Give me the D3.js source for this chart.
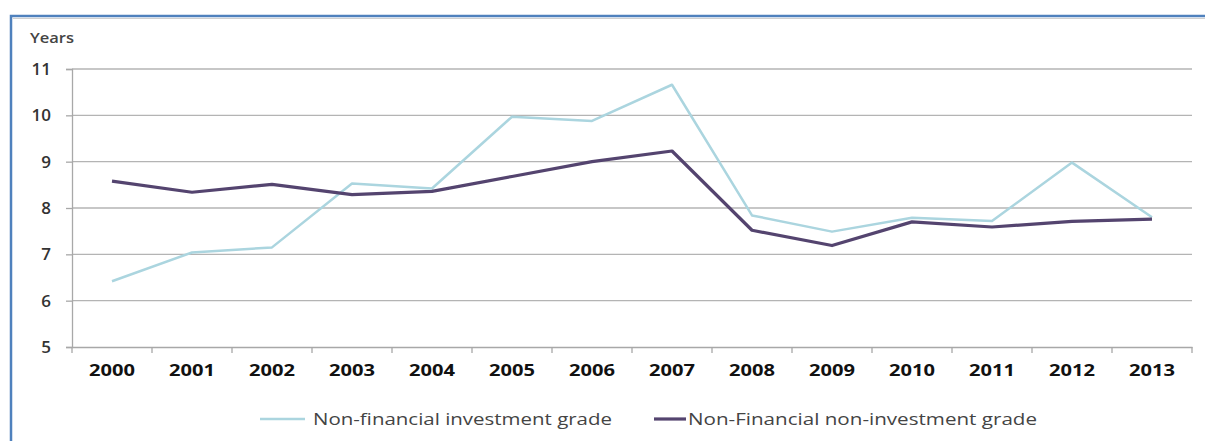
<!DOCTYPE html>
<html><head><meta charset="utf-8">
<script src="https://cdn.jsdelivr.net/npm/d3@7"></script>
<style>
html,body{margin:0;padding:0;background:#fff;}
svg{display:block;}
</style></head>
<body>
<svg id="chart" width="1205" height="441"></svg>
<script>
const years = ["2000","2001","2002","2003","2004","2005","2006","2007","2008","2009","2010","2011","2012","2013"];
const investmentGrade = [6.42, 7.04, 7.15, 8.53, 8.42, 9.97, 9.88, 10.66, 7.84, 7.49, 7.79, 7.72, 8.98, 7.8];
const nonInvestmentGrade = [8.58, 8.34, 8.51, 8.29, 8.36, 8.68, 9.0, 9.23, 7.52, 7.19, 7.7, 7.59, 7.71, 7.76];
const yTicks = [5, 6, 7, 8, 9, 10, 11];
const seriesNames = ["Non-financial investment grade", "Non-Financial non-investment grade"];

(function () {
const svg = d3.select("#chart");
const mLeft = 72, mRight = 1192, mTop = 69, mBottom = 347;

// frame
svg.append("rect").attr("x", 11).attr("y", 16).attr("width", 1210).attr("height", 440)
  .attr("fill", "none").attr("stroke", "#4f81bd").attr("stroke-width", 2.5);
svg.append("line").attr("x1", 13).attr("x2", 1205).attr("y1", 18.5).attr("y2", 18.5)
  .attr("stroke", "#d0d0d0").attr("stroke-width", 1);

const x = d3.scaleBand().domain(years).range([mLeft, mRight]).padding(0);
const y = d3.scaleLinear().domain([5, 11]).range([mBottom, mTop]);

// gridlines
svg.append("g").selectAll("line").data(yTicks.filter(d => d > 5)).join("line")
  .attr("x1", mLeft).attr("x2", mRight)
  .attr("y1", d => y(d)).attr("y2", d => y(d))
  .attr("stroke", "#b4b4b4").attr("stroke-width", 1.3);

// y axis
const yAxis = d3.axisLeft(y).tickValues(yTicks).tickSize(6).tickFormat(d3.format("d"));
const gy = svg.append("g").attr("transform", `translate(${mLeft},0)`).call(yAxis);
gy.select(".domain").attr("stroke", "#a8a8a8").attr("stroke-width", 1.3);
gy.selectAll(".tick line").attr("stroke", "#a8a8a8").attr("stroke-width", 1.3);
gy.selectAll("text").attr("font-family", "Open Sans, sans-serif").attr("font-size", 17)
  .attr("font-weight", 600).attr("fill", "#333").attr("x", -21).attr("text-anchor", "end");

// x axis
const xAxis = d3.axisBottom(x).tickSize(0).tickPadding(17);
const gx = svg.append("g").attr("transform", `translate(0,${mBottom})`).call(xAxis);
gx.select(".domain").attr("stroke", "#a8a8a8").attr("stroke-width", 1.5);
gx.selectAll("text").attr("font-family", "Open Sans, sans-serif").attr("font-size", 16.5)
  .attr("font-weight", "bold").attr("fill", "#111")
  .attr("textLength", 46).attr("lengthAdjust", "spacingAndGlyphs");
const bounds = years.map(d => x(d)).concat([mRight]);
gx.append("g").selectAll("line").data(bounds).join("line")
  .attr("x1", d => d).attr("x2", d => d).attr("y1", 0).attr("y2", 6)
  .attr("stroke", "#a8a8a8").attr("stroke-width", 1.3);

svg.append("text").attr("x", 30).attr("y", 43).text("Years")
  .attr("font-family", "Open Sans, sans-serif").attr("font-size", 13.5).attr("font-weight", 600).attr("fill", "#444")
  .attr("textLength", 44).attr("lengthAdjust", "spacingAndGlyphs");

const line = d3.line().x((d, i) => x(years[i]) + x.bandwidth() / 2).y(d => y(d));
svg.append("path").datum(investmentGrade).attr("d", line)
  .attr("fill", "none").attr("stroke", "#abd5df").attr("stroke-width", 2.5).attr("stroke-linejoin", "round");
svg.append("path").datum(nonInvestmentGrade).attr("d", line)
  .attr("fill", "none").attr("stroke", "#54446f").attr("stroke-width", 3.2).attr("stroke-linejoin", "round");

const legend = svg.append("g");
legend.append("line").attr("x1", 260).attr("x2", 305).attr("y1", 419).attr("y2", 419)
  .attr("stroke", "#abd5df").attr("stroke-width", 2.5);
legend.append("text").attr("x", 313).attr("y", 425).text(seriesNames[0])
  .attr("font-family", "Open Sans, sans-serif").attr("font-size", 17).attr("fill", "#444")
  .attr("textLength", 299).attr("lengthAdjust", "spacingAndGlyphs");
legend.append("line").attr("x1", 654).attr("x2", 686).attr("y1", 419).attr("y2", 419)
  .attr("stroke", "#54446f").attr("stroke-width", 3.2);
legend.append("text").attr("x", 688).attr("y", 425).text(seriesNames[1])
  .attr("font-family", "Open Sans, sans-serif").attr("font-size", 17).attr("fill", "#444")
  .attr("textLength", 349).attr("lengthAdjust", "spacingAndGlyphs");
})();
</script>
</body></html>
